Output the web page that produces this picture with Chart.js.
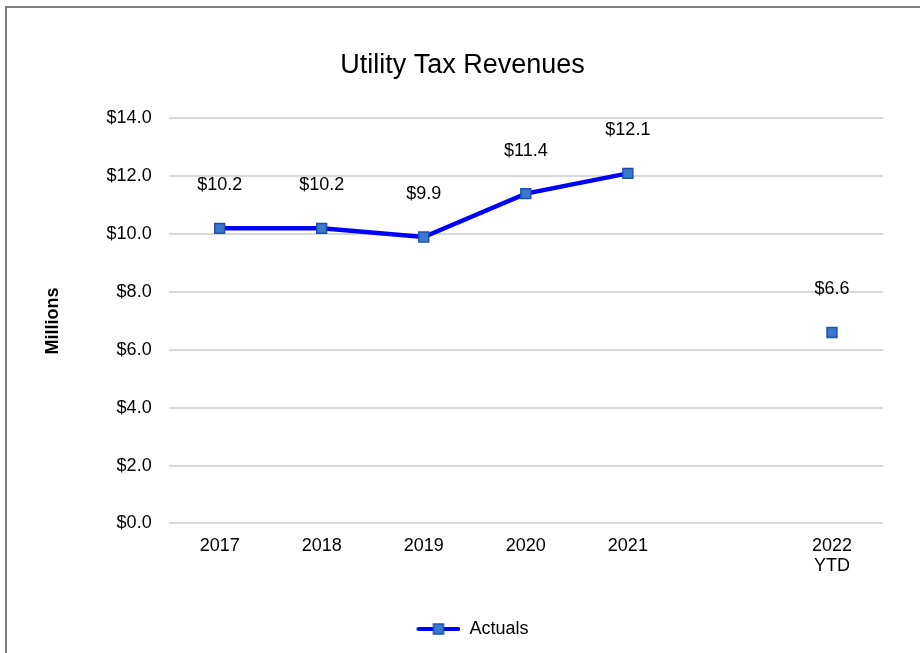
<!DOCTYPE html>
<html>
<head>
<meta charset="utf-8">
<script src="https://cdn.jsdelivr.net/npm/chart.js@4.4.0/dist/chart.umd.min.js"></script>
<style>
  html, body { margin: 0; padding: 0; background: #fff; overflow: hidden; }
  .frame { position: absolute; left: 5px; top: 6px; width: 1000px; height: 1000px; border: 2px solid #7f7f7f; }
  .wrap { position: absolute; left: 0; top: 0; width: 920px; height: 653px; }
</style>
</head>
<body>
<div class="frame"></div>
<div class="wrap"><canvas id="revChart" width="920" height="653"></canvas></div>
<script>
const years = ['2017', '2018', '2019', '2020', '2021', '', ['2022', 'YTD']];
const actuals = [10.2, 10.2, 9.9, 11.4, 12.1, null, 6.6];
const yTicks = [0, 2, 4, 6, 8, 10, 12, 14];

const FONT = 'Liberation Sans, Arial, sans-serif';
const LINE_BLUE = '#0000ff';
const MARK_FILL = '#3a78c9';
const MARK_EDGE = '#1f4fb5';

// line+square swatch for the legend (left part left blank to nudge the item right)
function legendSwatch() {
    const c = document.createElement('canvas');
    c.width = 64; c.height = 14;
    const g = c.getContext('2d');
    g.strokeStyle = LINE_BLUE; g.lineWidth = 4; g.lineCap = 'round';
    g.beginPath(); g.moveTo(22, 7); g.lineTo(62, 7); g.stroke();
    g.fillStyle = MARK_FILL; g.strokeStyle = MARK_EDGE; g.lineWidth = 1.5;
    g.fillRect(37, 2, 10, 10); g.strokeRect(37, 2, 10, 10);
    return c;
}

const valueLabels = {
    id: 'valueLabels',
    afterDatasetsDraw(chart) {
        const ctx = chart.ctx;
        const meta = chart.getDatasetMeta(0);
        ctx.save();
        ctx.font = '18px ' + FONT;
        ctx.fillStyle = '#000';
        ctx.textAlign = 'center';
        ctx.textBaseline = 'middle';
        meta.data.forEach((pt, i) => {
            const v = actuals[i];
            if (v == null) return;
            ctx.fillText('$' + v.toFixed(1), pt.x, pt.y - 43);
        });
        ctx.restore();
    }
};

const swatch = legendSwatch();

new Chart(document.getElementById('revChart'), {
    type: 'line',
    data: {
        labels: years,
        datasets: [{
            label: 'Actuals',
            data: actuals,
            borderColor: LINE_BLUE,
            borderWidth: 4.5,
            spanGaps: false,
            pointStyle: 'rect',
            pointRadius: 7,
            pointBackgroundColor: MARK_FILL,
            pointBorderColor: MARK_EDGE,
            pointBorderWidth: 1.5,
            tension: 0
        }]
    },
    options: {
        responsive: false,
        animation: false,
        layout: { padding: { left: 42, right: 37, top: 39, bottom: 5 } },
        plugins: {
            title: {
                display: true,
                text: 'Utility Tax Revenues',
                color: '#000',
                font: { family: FONT, size: 27, weight: 'normal' },
                padding: { top: 10, bottom: 37 }
            },
            legend: {
                position: 'bottom',
                labels: {
                    color: '#000',
                    font: { family: FONT, size: 18 },
                    usePointStyle: true,
                    pointStyleWidth: 64,
                    padding: 20,
                    generateLabels(chart) {
                        const items = Chart.defaults.plugins.legend.labels.generateLabels(chart);
                        items.forEach(it => { it.pointStyle = swatch; });
                        return items;
                    }
                }
            },
            tooltip: { enabled: false }
        },
        scales: {
            x: {
                offset: true,
                grid: { display: false },
                border: { display: false },
                afterFit(scale) { scale.height += 19; },
                ticks: { color: '#000', font: { family: FONT, size: 18, lineHeight: 1.1 }, padding: 5, maxRotation: 0, autoSkip: false }
            },
            y: {
                min: 0,
                max: 14,
                afterBuildTicks(scale) { scale.ticks = yTicks.map(v => ({ value: v })); },
                grid: { color: '#d9d9d9', lineWidth: 2, drawTicks: false },
                border: { display: false },
                ticks: {
                    color: '#000',
                    font: { family: FONT, size: 18 },
                    padding: 17,
                    callback: v => '$' + Number(v).toFixed(1)
                },
                title: {
                    display: true,
                    text: 'Millions',
                    color: '#000',
                    font: { family: FONT, size: 18, weight: 'bold' },
                    padding: { top: 0, bottom: 26 }
                }
            }
        }
    },
    plugins: [valueLabels]
});
</script>
</body>
</html>
